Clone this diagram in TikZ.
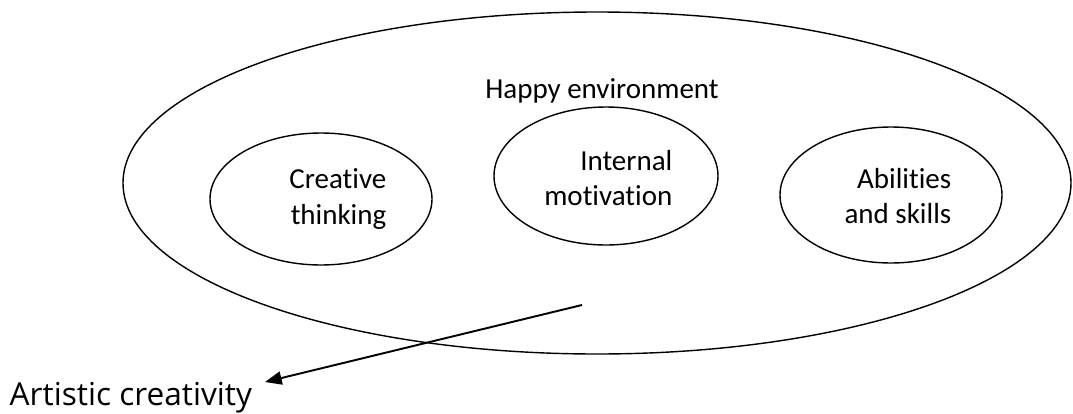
\documentclass[tikz,border=0pt]{standalone}
\usepackage{fontspec}
\setmainfont{Carlito}[Ligatures={NoCommon}]
\newfontfamily\labelfont{Open Sans}
\usetikzlibrary{arrows.meta}

\begin{document}
\begin{tikzpicture}[x=0.02cm, y=-0.02cm, line width=0.8pt,
  txt/.style={font=\fontsize{16.5}{20}\selectfont, align=right, anchor=east, inner sep=0pt}]
\useasboundingbox (0,0) rectangle (1073,413);

% outer ellipse
\draw (597,183) ellipse [x radius=474, y radius=171];

% inner ellipses
\draw (321,199) ellipse [x radius=111, y radius=66];
\draw (606,176) ellipse [x radius=112, y radius=69];
\draw (891,195) ellipse [x radius=111, y radius=68];

% nodes
{
\node[anchor=base, inner sep=0pt] (env) at (602,98) {\fontsize{16.5}{20}\selectfont Happy environment};

\node[txt] (think) at (387,199) {Creative\\thinking};
\node[txt] (motiv) at (673,178) {Internal\\motivation};
\node[txt] (skill) at (952,196) {Abilities\\and skills};

\node[anchor=base west, inner sep=0pt] (art) at (9,405)
{\labelfont\fontsize{18}{22}\selectfont Artistic creativity};
}

% arrow out of the outer ellipse
\coordinate (from) at (582,305);
\coordinate (to) at (265,382);
\draw[-{Triangle[length=9.5pt,width=7.5pt]}, line width=1.1pt] (from) -- (to);

\end{tikzpicture}
\end{document}
